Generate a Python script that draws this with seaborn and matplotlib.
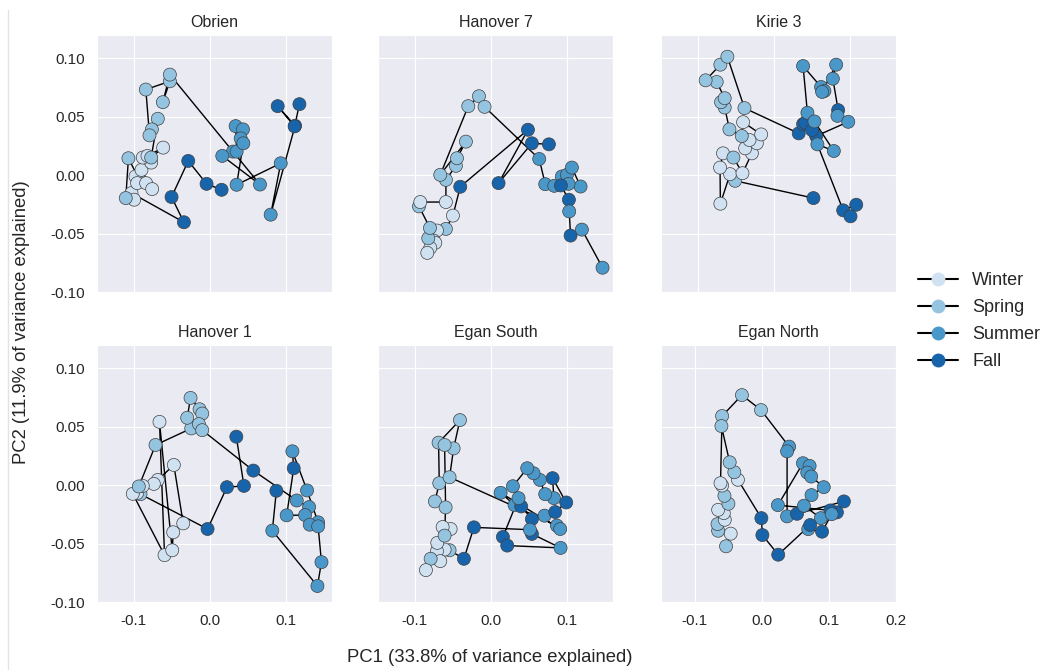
import matplotlib
matplotlib.use("Agg")
import matplotlib.pyplot as plt
import seaborn as sns
import pandas as pd
from matplotlib.lines import Line2D

sns.set_style("darkgrid")
plt.rcParams['font.family'] = ['Liberation Sans', 'DejaVu Sans']

season_order = ["Winter", "Spring", "Summer", "Fall"]
season_codes = {"W": "Winter", "S": "Spring", "U": "Summer", "F": "Fall"}
titles = ["Obrien", "Hanover 7", "Kirie 3", "Hanover 1", "Egan South", "Egan North"]
xlabel = "PC1 (33.8% of variance explained)"
ylabel = "PC2 (11.9% of variance explained)"

# ---------------- data (PC1, PC2, season sequence, in sampling order) ----------------
obrien_pc1 = [0.0153, -0.0044, -0.0284, -0.0503, -0.0341, -0.1028, -0.0993, -0.1103, -0.1068, -0.0932,
              -0.0976, -0.0954, -0.0836, -0.0757, -0.0897, -0.077, -0.088, -0.0818, -0.0613, -0.077,
              -0.0683, -0.0761, -0.0792, -0.084, -0.0525, -0.0617, -0.0525, 0.0302, 0.0656, 0.0162,
              0.035, 0.0337, 0.0433, 0.0403, 0.0438, 0.035, 0.0928, 0.0796, 0.1116, 0.0888, 0.111, 0.1173]
obrien_pc2 = [-0.0125, -0.0074, 0.0122, -0.0187, -0.0403, -0.0153, -0.021, -0.0196, 0.0145, -0.0031,
              -0.0011, -0.0068, -0.0068, -0.0119, 0.0045, 0.0108, 0.0151, 0.0165, 0.0236, 0.0151,
              0.0483, 0.0392, 0.0341, 0.0733, 0.0804, 0.0625, 0.0861, 0.0202, -0.008, 0.0165,
              0.0202, 0.042, 0.0392, 0.0315, 0.0273, -0.0082, 0.0102, -0.0338, 0.0423, 0.0591, 0.0418, 0.0608]
obrien_season = "FFFFFWWSSSWWWWWWWWWSSSSSSSSUUUUUUUUUUUFFFF"

hanover7_pc1 = [0.076, 0.0537, 0.01, 0.0485, -0.0402, -0.0498, -0.059, -0.0707, -0.0751, -0.0729,
                -0.0795, -0.0834, -0.0821, -0.0799, -0.0943, -0.0926, -0.059, -0.059, -0.0459, -0.0445,
                -0.0328, -0.0664, -0.0297, -0.0157, -0.0083, 0.0633, 0.0712, 0.083, 0.093, 0.0996,
                0.1061, 0.1175, 0.1017, 0.0917, 0.1022, 0.1026, 0.1044, 0.1192, 0.1463]
hanover7_pc2 = [0.0264, 0.0273, -0.0068, 0.0389, -0.0099, -0.0346, -0.046, -0.0474, -0.056, -0.0579,
                -0.0622, -0.0665, -0.054, -0.0452, -0.0267, -0.023, -0.023, -0.004, 0.008, 0.0145,
                0.0287, 0.0003, 0.0591, 0.0676, 0.0585, 0.0139, -0.0077, -0.0091, -0.0011, 0.0003,
                0.0065, -0.0097, -0.0074, -0.0088, -0.021, -0.031, -0.0517, -0.0466, -0.0792]
hanover7_season = "FFFFFWSWWWWWSSSWWSSSSSSSSUUUUUUUUFFUFUU"

kirie3_pc1 = [0.0518, -0.0509, -0.0575, -0.0702, -0.0706, -0.0667, -0.0531, -0.0412, -0.0289, -0.0377,
              -0.0224, -0.032, -0.0167, -0.0404, -0.0421, -0.0583, -0.0645, -0.0693, -0.0645, -0.075,
              -0.0895, -0.0702, -0.061, -0.0386, 0.0325, 0.0382, 0.0412, 0.0439, 0.0382, 0.0618,
              0.0662, 0.0632, 0.0816, 0.0772, 0.0842, 0.0833, 0.0974, 0.0553, 0.05, 0.0531,
              0.0785, 0.057, 0.0908, 0.1079, 0.1004]
kirie3_pc2 = [-0.0196, -0.0048, 0.0009, -0.0244, 0.0065, 0.0187, 0.0151, 0.0017, 0.0187, 0.023,
              0.0273, 0.0301, 0.0349, 0.0454, 0.0335, 0.0392, 0.0579, 0.0625, 0.0659, 0.0798,
              0.0812, 0.0946, 0.1014, 0.0574, 0.0358, 0.0437, 0.0449, 0.0534, 0.0934, 0.0755,
              0.0721, 0.0713, 0.0946, 0.0826, 0.0557, 0.0508, 0.0457, 0.0335, 0.0386, 0.046,
              0.0207, 0.0264, -0.0301, -0.0253, -0.0352]
kirie3_season = "FSWWWWSWWWWWWWSSSSSSSSSSFFFUUUUUUUFUUFFUUUFFF"

hanover1_pc1 = [0.0346, 0.0446, 0.0223, -0.0031, -0.091, -0.0954, -0.1011, -0.0595, -0.0661, -0.0494,
                -0.0481, -0.035, -0.0473, -0.0683, -0.0735, -0.088, -0.0932, -0.0713, -0.0245, -0.0298,
                -0.0254, -0.0136, -0.0101, -0.0144, -0.0101, 0.0569, 0.1138, 0.13, 0.1247, 0.1006,
                0.1098, 0.1081, 0.1273, 0.1418, 0.1308, 0.1418, 0.1462, 0.1409, 0.0818, 0.0871]
hanover1_pc2 = [0.0415, -0.0006, -0.0017, -0.0375, -0.0077, -0.0068, -0.0074, -0.0599, 0.0542, -0.0557,
                -0.0403, -0.0327, 0.0173, 0.0045, 0.0011, -0.0006, -0.0011, 0.0344, 0.0486, 0.0577,
                0.0747, 0.065, 0.0613, 0.0523, 0.0471, 0.0125, -0.0131, -0.0187, -0.0256, -0.0258,
                0.0145, 0.029, -0.0045, -0.0318, -0.0338, -0.0352, -0.0659, -0.0863, -0.0389, -0.0048]
hanover1_season = "FFFFSWWWWWWWWWWWSSSSSSSSSFUUUUFUUUUUUUUF"

egansouth_pc1 = [-0.0734, -0.0677, -0.0686, -0.0406, -0.0489, -0.0542, 0.0865, 0.0908, 0.0127, 0.031,
                 0.0397, 0.0537, 0.0703, 0.0843, 0.0987, 0.0808, 0.0825, 0.0712, 0.0642, 0.0559,
                 0.0476, 0.0288, 0.0362, 0.0157, 0.0214, 0.0913, 0.0537, 0.0511, -0.0223, -0.0354,
                 -0.0542, -0.0607, -0.0707, -0.0664, -0.079, -0.0852, -0.0703, -0.0528, -0.0633, -0.0607,
                 -0.0594, -0.0607]
egansouth_pc2 = [-0.0139, 0.0017, 0.0364, 0.0557, 0.0315, 0.0068, -0.0346, -0.0375, -0.0065, -0.017,
                 -0.0182, -0.029, -0.0261, -0.023, -0.0148, 0.006, -0.0111, -0.0077, 0.0045, 0.0102,
                 0.0145, -0.0009, -0.0111, -0.0443, -0.0517, -0.0537, -0.0417, -0.0381, -0.0361, -0.063,
                 -0.0557, -0.0551, -0.0565, -0.065, -0.063, -0.0727, -0.0494, -0.0375, -0.0358, -0.0432,
                 -0.019, 0.0344]
egansouth_season = "SSSSSSUUUUFFUFFFUUUUUUUFFUFUFFSWWWSWWWWSSS"

egannorth_pc1 = [-0.0531, -0.0462, -0.0649, -0.0658, -0.055, -0.0565, -0.0649, -0.0496, -0.0555, -0.059,
                 -0.0614, -0.059, -0.0295, -0.001, 0.0408, 0.0378, 0.0378, 0.0526, 0.1224, 0.112,
                 0.1022, 0.0241, 0.0614, 0.0713, 0.0678, 0.0737, 0.0924, 0.0742, 0.0629, 0.088,
                 0.1042, 0.0899, 0.0693, 0.0722, 0.0246, 0.001, -0.0005, -0.0354, -0.0408, -0.0477, -0.06]
egannorth_pc2 = [-0.0523, -0.0415, -0.039, -0.0333, -0.0296, -0.0239, -0.0211, -0.0159, -0.0091, -0.0003,
                 0.0017, 0.0592, 0.0771, 0.0643, 0.033, 0.029, -0.0267, -0.0245, -0.0139, -0.0233,
                 -0.0216, -0.0171, 0.0188, 0.0165, 0.0108, 0.0074, -0.0017, -0.0085, -0.0176, -0.0282,
                 -0.0248, -0.0398, -0.0376, -0.0341, -0.0595, -0.0427, -0.0282, 0.0046, 0.0111, 0.0196, 0.0506]
egannorth_season = "SWSSWWWSSWWSSSUUUFFFFUUUUUUUUUUFUFFFFWSSS"

panel_data = [
    (obrien_pc1, obrien_pc2, obrien_season),
    (hanover7_pc1, hanover7_pc2, hanover7_season),
    (kirie3_pc1, kirie3_pc2, kirie3_season),
    (hanover1_pc1, hanover1_pc2, hanover1_season),
    (egansouth_pc1, egansouth_pc2, egansouth_season),
    (egannorth_pc1, egannorth_pc2, egannorth_season),
]
x_ticks_default = [-0.1, 0.0, 0.1]
x_ticks_last = [-0.1, 0.0, 0.1, 0.2]
y_ticks = [-0.10, -0.05, 0.00, 0.05, 0.10]

palette = sns.color_palette("Blues", 4)

W, H = 1042, 670
fig = plt.figure(figsize=(W / 100, H / 100), dpi=100)

col_left = [97, 378, 661]
ax_w = 235
row_top = [35, 345]
ax_h = 257

axes = []
for i, (pc1, pc2, seas) in enumerate(panel_data):
    r, c = divmod(i, 3)
    ax = fig.add_axes([col_left[c] / W, 1 - (row_top[r] + ax_h) / H, ax_w / W, ax_h / H])
    df = pd.DataFrame({"PC1": pc1, "PC2": pc2, "Season": [season_codes[s] for s in seas]})
    sns.lineplot(data=df, x="PC1", y="PC2", sort=False, estimator=None, color="black",
                 lw=1.0, ax=ax, zorder=2)
    sns.scatterplot(data=df, x="PC1", y="PC2", hue="Season", hue_order=season_order,
                    palette=palette, s=88, edgecolor="0.25", linewidth=0.5, ax=ax,
                    legend=False, zorder=3)
    ax.set_title(titles[i], fontsize=11.5)
    ax.set_xlabel("")
    ax.set_ylabel("")
    ax.set_ylim(-0.10, 0.12)
    ax.set_yticks(y_ticks)
    if i == 5:
        ax.set_xlim(-0.15, 0.2)
        ax.set_xticks(x_ticks_last)
    else:
        ax.set_xlim(-0.148, 0.16)
        ax.set_xticks(x_ticks_default)
    ax.tick_params(labelsize=11, pad=5)
    if r == 0:
        ax.tick_params(labelbottom=False)
    else:
        ax.set_xticklabels(["%.1f" % t for t in ax.get_xticks()])
    if c > 0:
        ax.tick_params(labelleft=False)
    else:
        ax.set_yticklabels(["%.2f" % t for t in y_ticks])
    axes.append(ax)

fig.text(490 / W, 1 - 658 / H, xlabel, ha="center", va="center", fontsize=13.3)
fig.text(22 / W, 1 - 322 / H, ylabel, ha="center", va="center", rotation=90, fontsize=13.3)

handles = [Line2D([], [], color="black", lw=1.5, marker="o", markersize=9,
                  markerfacecolor=col, markeredgecolor=col) for col in palette]
fig.legend(handles, season_order, loc="center left", bbox_to_anchor=(902 / W, 1 - 321 / H),
           frameon=False, fontsize=13, handlelength=2.2, handletextpad=0.8, labelspacing=0.55)

fig.add_artist(Line2D([8 / W, 8 / W], [0, 1 - 10 / H], transform=fig.transFigure,
                      color="#e3e3e3", lw=1))

fig.savefig("out.png", dpi=100)
